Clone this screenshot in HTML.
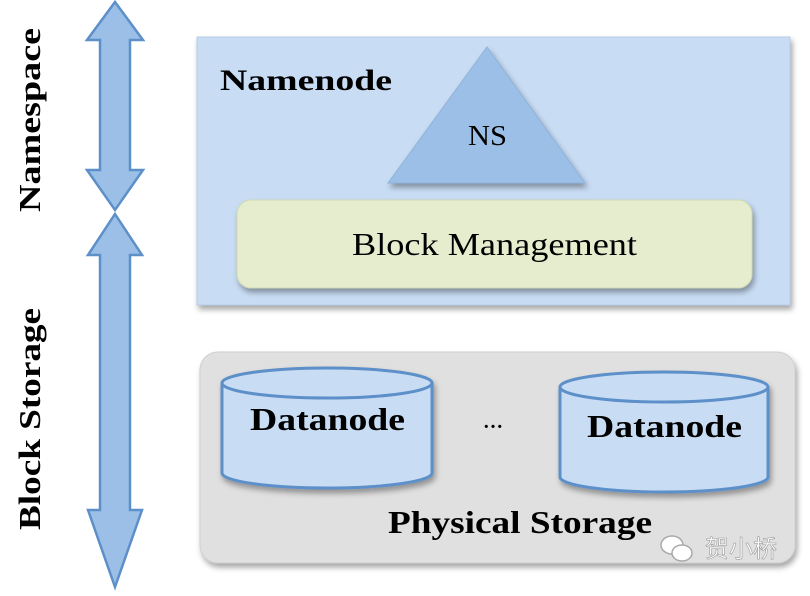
<!DOCTYPE html>
<html><head><meta charset="utf-8"><style>
body{margin:0;background:#fff;width:810px;height:591px;overflow:hidden}
</style></head><body>
<svg width="810" height="591" xmlns="http://www.w3.org/2000/svg" font-family="Liberation Serif, serif">
<defs>
<filter id="sh" x="-10%" y="-10%" width="120%" height="130%"><feDropShadow dx="2" dy="4" stdDeviation="3" flood-color="#000" flood-opacity="0.35"/></filter>
</defs>
<polygon points="115,2 143,40 130,40 130,170 143,170 115,210 87,170 100,170 100,40 87,40" fill="#9bbfe6" stroke="#5d8fc9" stroke-width="2.5"/>
<polygon points="115,214 142,255 130,255 130,510 142,510 115,587 88,510 100,510 100,255 88,255" fill="#9bbfe6" stroke="#5d8fc9" stroke-width="2.5"/>
<text transform="translate(40,212) rotate(-90)" font-weight="bold" font-size="31" textLength="184" lengthAdjust="spacingAndGlyphs">Namespace</text>
<text transform="translate(40,530) rotate(-90)" font-weight="bold" font-size="31" textLength="222" lengthAdjust="spacingAndGlyphs">Block Storage</text>
<rect x="197" y="37" width="593" height="268" fill="#c8dcf4" stroke="#b8cde8" filter="url(#sh)"/>
<text x="220" y="90" font-weight="bold" font-size="30" textLength="172" lengthAdjust="spacingAndGlyphs">Namenode</text>
<polygon points="487,47 585,183 388,183" fill="#9bbfe6" stroke="#8fb3dc" filter="url(#sh)"/>
<text x="468" y="145" font-size="28" textLength="39" lengthAdjust="spacingAndGlyphs">NS</text>
<rect x="237" y="200" width="515" height="88" rx="14" fill="#e6edcf" stroke="#d0dab0" filter="url(#sh)"/>
<text x="352" y="255" font-size="32" textLength="285" lengthAdjust="spacingAndGlyphs">Block Management</text>
<rect x="200" y="352" width="595" height="211" rx="18" fill="#e0e0e0" stroke="#d0d0d0" filter="url(#sh)"/>
<g filter="url(#sh)">
<path d="M222,383 L222,473 A105,15 0 0 0 432,473 L432,383" fill="#c8dcf4" stroke="#5d8fc9" stroke-width="3"/>
<ellipse cx="327" cy="383" rx="105" ry="15" fill="#c8dcf4" stroke="#5d8fc9" stroke-width="3"/>
<path d="M560,387 L560,477 A104,15 0 0 0 768,477 L768,387" fill="#c8dcf4" stroke="#5d8fc9" stroke-width="3"/>
<ellipse cx="664" cy="387" rx="104" ry="15" fill="#c8dcf4" stroke="#5d8fc9" stroke-width="3"/>
</g>
<text x="250" y="430" font-weight="bold" font-size="32" textLength="155" lengthAdjust="spacingAndGlyphs">Datanode</text>
<text x="587" y="437" font-weight="bold" font-size="32" textLength="155" lengthAdjust="spacingAndGlyphs">Datanode</text>
<text x="493" y="428" text-anchor="middle" font-weight="bold" font-size="20">…</text>
<text x="388" y="533" font-weight="bold" font-size="32" textLength="264" lengthAdjust="spacingAndGlyphs">Physical Storage</text>
<g fill="#fff" stroke="#aaa" stroke-width="1.5">
<ellipse cx="672" cy="545" rx="11" ry="9"/><ellipse cx="682" cy="553" rx="10" ry="8"/>
</g>
<text x="705" y="557" font-family="Noto Sans CJK SC, sans-serif" font-size="24" fill="#fff" stroke="#999" stroke-width="0.6">贺小桥</text>
</svg>
</body></html>
